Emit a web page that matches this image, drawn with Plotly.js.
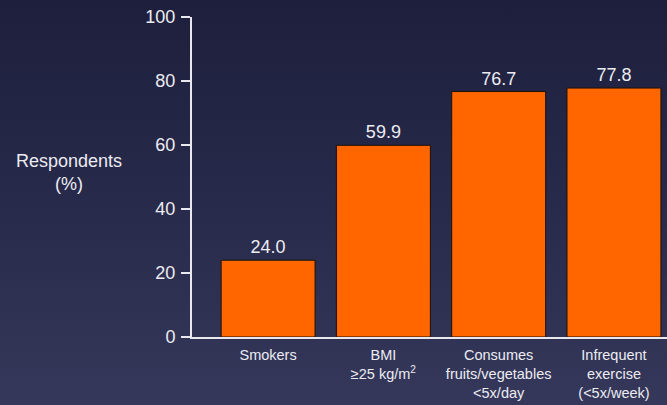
<!DOCTYPE html>
<html>
<head>
<meta charset="utf-8">
<script src="https://cdn.plot.ly/plotly-3.0.1.min.js"></script>
<style>
  html, body { margin: 0; padding: 0; }
  body { width: 667px; height: 405px; background: linear-gradient(to bottom, #1d1f3c 0%, #282a4b 50%, #35385a 100%); overflow: hidden; }
  #chart { width: 667px; height: 405px; }
</style>
</head>
<body>
<div id="chart"></div>
<script>
const categories = [
  "Smokers",
  "BMI<br>≥25 kg/m<sup>2</sup>",
  "Consumes<br>fruits/vegetables<br><5x/day",
  "Infrequent<br>exercise<br>(<5x/week)"
];
const respondents = [24.0, 59.9, 76.7, 77.8];
const yTicks = [0, 20, 40, 60, 80, 100];

const textColor = "#ececf2";
const fontFamily = "Liberation Sans, Arial, sans-serif";

const trace = {
  type: "bar",
  x: [0, 1, 2, 3],
  y: respondents,
  marker: { color: "#ff6600", line: { color: "#1a1008", width: 1 } },
  text: respondents.map(v => v.toFixed(1)),
  textposition: "outside",
  textfont: { color: textColor, size: 18, family: fontFamily },
  cliponaxis: false,
  hoverinfo: "none"
};

const layout = {
  width: 667, height: 405,
  margin: { l: 192, r: 0, t: 17, b: 68 },
  paper_bgcolor: "rgba(0,0,0,0)",
  plot_bgcolor: "rgba(0,0,0,0)",
  showlegend: false,
  bargap: 0.185,
  font: { family: fontFamily, color: textColor },
  xaxis: {
    range: [-0.66, 3.46],
    tickvals: [0, 1, 2, 3],
    ticktext: categories,
    tickfont: { size: 14.5, color: textColor },
    ticklabelstandoff: 4,
    showgrid: false, zeroline: false,
    showline: true, linecolor: "#e8e8ee", linewidth: 2,
    ticks: "", fixedrange: true
  },
  yaxis: {
    range: [0, 100],
    tickvals: yTicks,
    ticktext: yTicks.map(String),
    tickfont: { size: 18, color: textColor },
    ticklabelstandoff: 2,
    showgrid: false, zeroline: false,
    showline: true, linecolor: "#e8e8ee", linewidth: 2,
    ticks: "outside", ticklen: 9, tickwidth: 2, tickcolor: "#e8e8ee",
    fixedrange: true
  },
  annotations: [{
    text: "Respondents<br>(%)",
    xref: "paper", yref: "paper",
    x: -0.26, y: 0.515,
    xanchor: "center", yanchor: "middle",
    showarrow: false,
    font: { size: 18, color: textColor, family: fontFamily },
    align: "center"
  }]
};

Plotly.newPlot("chart", [trace], layout, { displayModeBar: false, staticPlot: true });
</script>
</body>
</html>
